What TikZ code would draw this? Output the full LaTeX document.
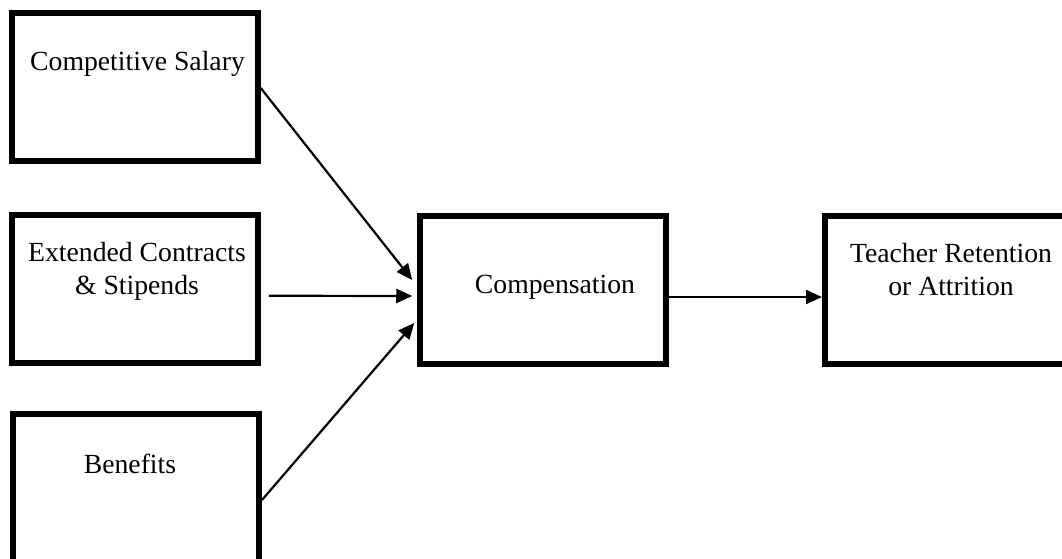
\documentclass[tikz,border=0pt]{standalone}
\usepackage{fontspec}
\setmainfont{Liberation Serif}
\usetikzlibrary{arrows.meta}
\tikzset{
  boxnode/.style={draw=black, line width=3pt, inner sep=0pt, minimum width=123pt, minimum height=74pt},
  txt/.style={font=\fontsize{13.85pt}{16.5pt}\selectfont, align=center, anchor=base, inner sep=0pt},
  conn/.style={draw=black, line width=1.1pt, -{Triangle[length=8pt,width=7pt]}}
}
\begin{document}
\begin{tikzpicture}[x=0.5pt,y=-0.5pt]
\useasboundingbox (0,0) rectangle (1062,558);
\clip (0,0) rectangle (1062,558);
\fill[white] (0,0) rectangle (1062,558);
\node[boxnode] (b1) at (134.75,87) {};
\node[boxnode] (b2) at (134.75,288.75) {};
\node[boxnode] (b3) at (136,488) {};
\node[boxnode] (comp) at (543.25,290) {};
\node[boxnode] (teach) at (948,290) {};
\node[txt] (t1) at (137.5,70) {Competitive Salary};
\node[txt] (t2) at (137,294) {Extended Contracts\\ \& Stipends};
\node[txt] (t3) at (130,473) {Benefits};
\node[txt] (t4) at (555,293) {Compensation};
\node[txt] (t5) at (951,295) {Teacher Retention\\ or Attrition};
\draw[conn] ([yshift=-39pt]b1.north east) -- ([xshift=-2.5pt,yshift=-33.5pt]comp.north west);
\draw[conn] ([xshift=4pt,yshift=-3.5pt]b2.east) -- ([xshift=-2.5pt,yshift=-3pt]comp.west);
\draw[conn] ([yshift=-6pt]b3.east) -- ([xshift=-1.5pt,yshift=-16.5pt]comp.west);
\draw[conn] ([yshift=-3.5pt]comp.east) -- ([yshift=-3.5pt]teach.west);
\end{tikzpicture}
\end{document}
